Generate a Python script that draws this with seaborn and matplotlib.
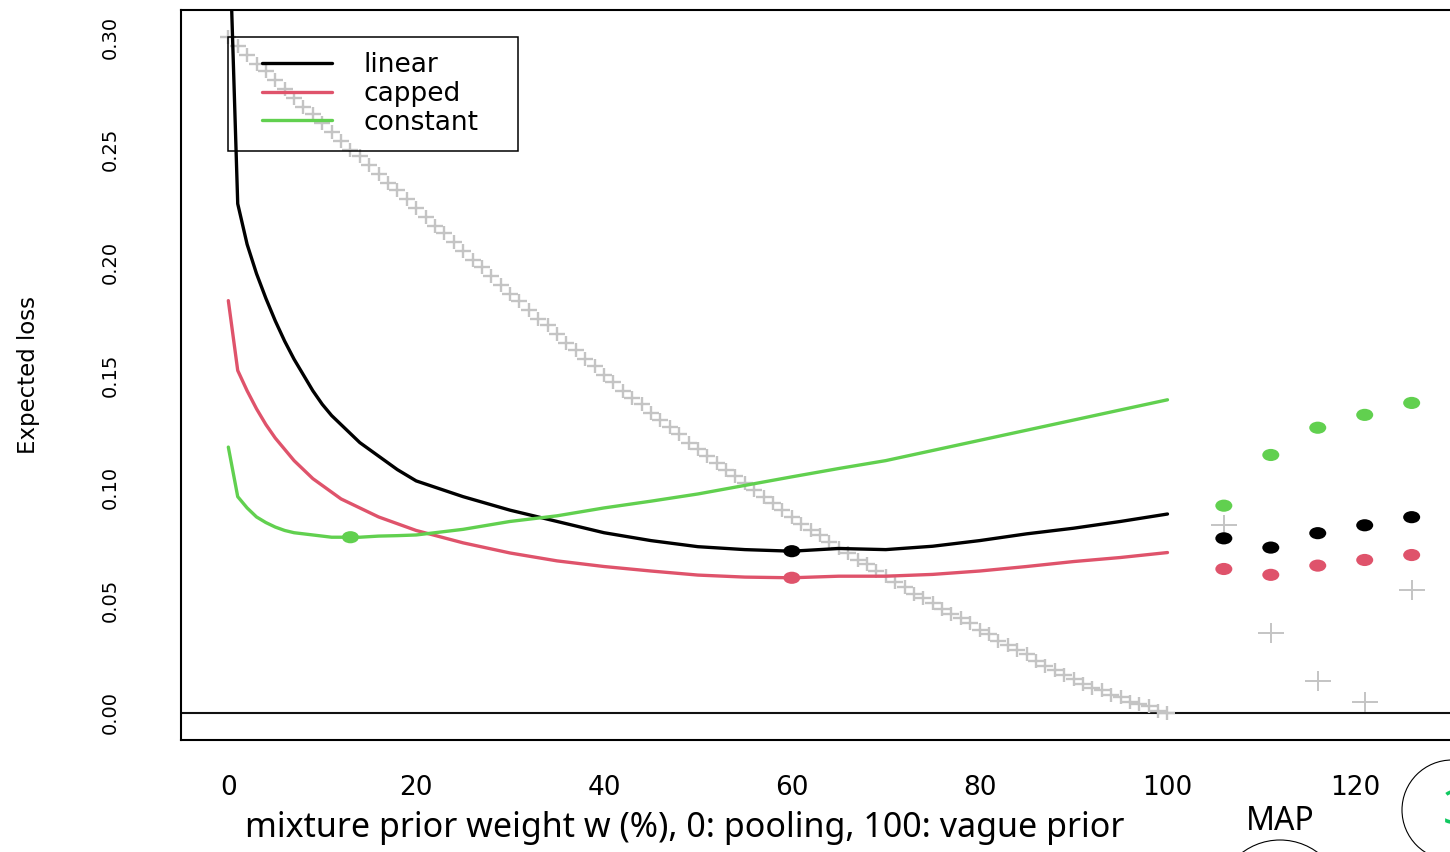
import pandas as pd
import seaborn as sns
import matplotlib.pyplot as plt
from matplotlib.path import Path
from matplotlib.transforms import Affine2D
from matplotlib.lines import Line2D
from matplotlib.legend_handler import HandlerLine2D
from matplotlib.patches import Ellipse

# expected loss curves over the mixture weight w (%)
w_grid = [0, 1, 2, 3, 4, 5, 6, 7, 8, 9, 10, 11, 12, 14, 16, 18, 20, 25, 30, 35,
          40, 45, 50, 55, 60, 65, 70, 75, 80, 85, 90, 95, 100]
loss_linear = [0.360, 0.226, 0.208, 0.195, 0.184, 0.174, 0.165, 0.157, 0.150,
               0.143, 0.137, 0.132, 0.128, 0.120, 0.114, 0.108, 0.103, 0.096,
               0.090, 0.085, 0.080, 0.0765, 0.0738, 0.0725, 0.0718, 0.0730,
               0.0725, 0.0740, 0.0765, 0.0795, 0.0820, 0.0850, 0.0883]
loss_capped = [0.183, 0.152, 0.143, 0.135, 0.128, 0.122, 0.117, 0.112, 0.108,
               0.104, 0.101, 0.098, 0.095, 0.091, 0.087, 0.084, 0.081, 0.0755,
               0.0710, 0.0675, 0.0650, 0.0630, 0.0612, 0.0603, 0.0600, 0.0607,
               0.0607, 0.0615, 0.0630, 0.0650, 0.0672, 0.0690, 0.0712]
loss_constant = [0.118, 0.096, 0.091, 0.087, 0.0845, 0.0825, 0.081, 0.080,
                 0.0795, 0.079, 0.0785, 0.078, 0.078, 0.078, 0.0785, 0.0787,
                 0.0790, 0.0815, 0.0850, 0.0875, 0.0910, 0.0940, 0.0972, 0.1010,
                 0.1048, 0.1085, 0.1120, 0.1165, 0.1210, 0.1255, 0.1300, 0.1345,
                 0.1390]

# gray crosses, one per percent 0..100
w_cross = list(range(101))
cross_loss = [0.300, 0.296, 0.292, 0.288, 0.285, 0.281, 0.277, 0.273, 0.269, 0.266,
              0.262, 0.258, 0.254, 0.250, 0.247, 0.243, 0.239, 0.235, 0.232, 0.228,
              0.224, 0.220, 0.216, 0.213, 0.209, 0.205, 0.201, 0.198, 0.194, 0.190,
              0.186, 0.183, 0.179, 0.175, 0.172, 0.168, 0.164, 0.161, 0.157, 0.154,
              0.150, 0.147, 0.143, 0.140, 0.137, 0.133, 0.130, 0.127, 0.124, 0.120,
              0.117, 0.114, 0.111, 0.108, 0.105, 0.102, 0.099, 0.096, 0.093, 0.090,
              0.087, 0.084, 0.081, 0.079, 0.076, 0.073, 0.071, 0.068, 0.066, 0.063,
              0.061, 0.058, 0.056, 0.053, 0.051, 0.049, 0.046, 0.044, 0.042, 0.040,
              0.037, 0.035, 0.032, 0.030, 0.028, 0.026, 0.023, 0.021, 0.019, 0.017,
              0.015, 0.013, 0.011, 0.010, 0.008, 0.007, 0.005, 0.004, 0.003, 0.001,
              0.000]

# minima on the curves
opt_type = ['linear', 'capped', 'constant']
opt_w = [60, 60, 13]
opt_loss = [0.0718, 0.0600, 0.0780]

# MAP prior results
map_x = [106, 111, 116, 121, 126]
map_linear = [0.0775, 0.0734, 0.0798, 0.0833, 0.0869]
map_capped = [0.0639, 0.0613, 0.0654, 0.0679, 0.0701]
map_constant = [0.0920, 0.1145, 0.1266, 0.1323, 0.1376]
map_cross = [0.0834, 0.0354, 0.0142, 0.0049, 0.0545]

colors = {'linear': '#000000', 'capped': '#DF536B', 'constant': '#61D04F'}
cross_col = '#C4C4C4'

n = len(w_grid)
curves = pd.DataFrame({
    'w': w_grid * 3,
    'loss': loss_linear + loss_capped + loss_constant,
    'type': ['linear'] * n + ['capped'] * n + ['constant'] * n,
})
opt = pd.DataFrame({'w': opt_w, 'loss': opt_loss, 'type': opt_type})
maps = pd.DataFrame({
    'w': map_x * 3,
    'loss': map_linear + map_capped + map_constant,
    'type': ['linear'] * 5 + ['capped'] * 5 + ['constant'] * 5,
})

sns.set_style('white')
plt.rcParams['font.family'] = ['DejaVu Sans']
plt.rcParams['text.color'] = 'black'
plt.rcParams['axes.labelcolor'] = 'black'
plt.rcParams['xtick.color'] = 'black'
plt.rcParams['ytick.color'] = 'black'

# stretched dot and cross shapes (the source image is widened)
dot = Path.unit_circle().transformed(Affine2D().scale(1.4, 1.0))
cross = Path([(-1.25, 0), (1.25, 0), (0, -1), (0, 1)],
             [Path.MOVETO, Path.LINETO, Path.MOVETO, Path.LINETO])

fig = plt.figure(figsize=(14.5, 8.52), dpi=100)
W, H = 1450, 852
ax = fig.add_axes([181 / W, 112 / H, (1459 - 181) / W, 730 / H])

ax.axhline(0, color='#111111', lw=1.5, zorder=1)
sns.scatterplot(x=w_cross, y=cross_loss, marker=cross, s=140, color=cross_col,
                edgecolor=cross_col, linewidth=1.7, ax=ax, zorder=2)
sns.scatterplot(x=map_x, y=map_cross, marker=cross, s=330, color=cross_col,
                edgecolor=cross_col, linewidth=1.4, ax=ax, zorder=2)
sns.lineplot(data=curves, x='w', y='loss', hue='type', palette=colors,
             lw=2.4, sort=False, legend=False, ax=ax, zorder=3)
sns.scatterplot(data=opt, x='w', y='loss', hue='type', palette=colors,
                marker=dot, s=150, linewidth=0, legend=False, ax=ax, zorder=4)
sns.scatterplot(data=maps, x='w', y='loss', hue='type', palette=colors,
                marker=dot, s=150, linewidth=0, legend=False, ax=ax, zorder=4)

ax.set_xlim(-5.04, 131.04)
ax.set_ylim(-0.012, 0.312)
ax.set_xticks([0, 20, 40, 60, 80, 100, 120])
ax.set_yticks([0.00, 0.05, 0.10, 0.15, 0.20, 0.25, 0.30])
ax.set_yticklabels(['0.00', '0.05', '0.10', '0.15', '0.20', '0.25', '0.30'],
                   rotation=90, va='center')
ax.tick_params(axis='x', length=11, width=1.4, pad=14, labelsize=19)
ax.tick_params(axis='y', length=16, width=1.4, pad=28, labelsize=14)
ax.set_xlabel(None)
ax.set_ylabel('Expected loss', fontsize=16.5, labelpad=44)
for sp in ax.spines.values():
    sp.set_linewidth(1.5)
    sp.set_color('black')

handles = [Line2D([], [], color=colors[k], lw=2.4) for k in opt_type]
leg = ax.legend(handles, opt_type, loc='upper left', mode='expand',
                bbox_to_anchor=(228 / W, 1 - 150 / H, 290 / W, 113 / H),
                bbox_transform=fig.transFigure,
                fontsize=19, frameon=True, fancybox=False,
                borderpad=0.58, borderaxespad=0,
                handlelength=3.37, handletextpad=1.17, labelspacing=0.1,
                handler_map={Line2D: HandlerLine2D(xpad=0.72)})
frame = leg.get_frame()
frame.set_facecolor('none')
frame.set_edgecolor('black')
frame.set_alpha(1)
frame.set_linewidth(1.1)

# slide annotations around the plot
fig.text(685 / W, 1 - 828 / H, 'mixture prior weight w (%), 0: pooling, 100: vague prior',
         ha='center', va='center', fontsize=24.5, family=['Noto Sans', 'DejaVu Sans'])
fig.text(1280 / W, 1 - 822 / H, 'MAP', ha='center', va='center', fontsize=23,
         family=['Noto Sans', 'DejaVu Sans'])
fig.text(1443 / W, 1 - 812 / H, '3', ha='left', va='center', fontsize=34,
         color='#10C860', family=['Noto Sans', 'DejaVu Sans'])
fig.add_artist(Ellipse((1280 / W, 1 - 903 / H), 126 / W, 126 / H,
                       transform=fig.transFigure, fill=False, ec='black', lw=0.8))
fig.add_artist(Ellipse((1452 / W, 1 - 810 / H), 100 / W, 100 / H,
                       transform=fig.transFigure, fill=False, ec='black', lw=0.8))

plt.savefig('out.png', dpi=100)
plt.close()
